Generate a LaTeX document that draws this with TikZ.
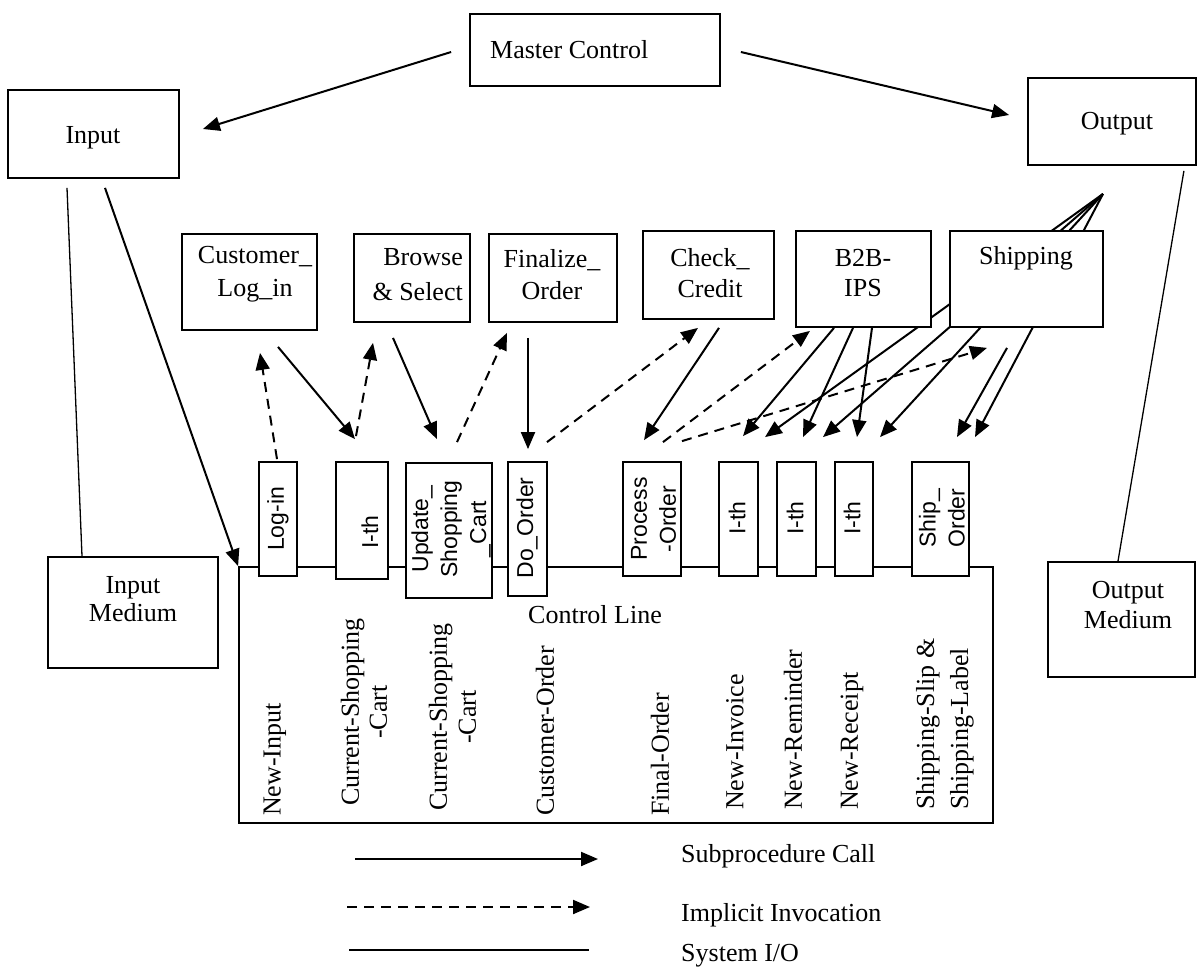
\documentclass[tikz,border=0pt]{standalone}
\usepackage{fontspec}
\setmainfont{Liberation Serif}
\newfontfamily\arialfont{Liberation Sans}
\usetikzlibrary{arrows.meta,calc}
\pgfdeclarelayer{back}
\pgfdeclarelayer{bg}
\pgfsetlayers{back,bg,main}
\begin{document}
\begin{tikzpicture}[x=1pt,y=-1pt,
  box/.style={draw,line width=1.8pt,fill=white,inner sep=0pt},
  tlbl/.style={font=\fontsize{26}{31}\selectfont,inner sep=0pt,align=center},
  slbl/.style={font=\arialfont\fontsize{23}{29}\selectfont,inner sep=0pt,align=center,rotate=90},
  vlbl/.style={font=\fontsize{26}{31}\selectfont,inner sep=0pt,rotate=90},
  arrowhd/.style={-{Triangle[length=17pt,width=14pt]}},
  call/.style={line width=2pt,arrowhd},
  impl/.style={line width=2pt,dash pattern=on 10pt off 7pt,arrowhd},
  sysio/.style={line width=1.3pt}]
\useasboundingbox (0,0) rectangle (1197,969);
\begin{pgfonlayer}{back}
\fill[white] (0,0) rectangle (1197,969);
\end{pgfonlayer}
% boxes
\node[box,minimum width=250pt,minimum height=72pt] (master) at (595,50) {};
\node[box,minimum width=171pt,minimum height=88pt] (input) at (93.5,134) {};
\node[box,minimum width=168pt,minimum height=87pt] (output) at (1112,121.5) {};
\node[box,minimum width=135pt,minimum height=96pt] (cust) at (249.5,282) {};
\node[box,minimum width=116pt,minimum height=88pt] (browse) at (412,278) {};
\node[box,minimum width=128pt,minimum height=88pt] (final) at (553,278) {};
\node[box,minimum width=131pt,minimum height=88pt] (check) at (708.5,275) {};
\node[box,minimum width=135pt,minimum height=96pt] (b2b) at (863.5,279) {};
\node[box,minimum width=153pt,minimum height=96pt] (ship) at (1026.5,279) {};
\node[box,minimum width=170pt,minimum height=111pt] (inmed) at (133,612.5) {};
\node[box,minimum width=147pt,minimum height=115pt] (outmed) at (1121.5,619.5) {};
\node[box,minimum width=754pt,minimum height=256pt] (ctrl) at (616,695) {};
\node[box,minimum width=38pt,minimum height=114pt] (login) at (278,519) {};
\node[box,minimum width=52pt,minimum height=117pt] (ith1) at (362,520.5) {};
\node[box,minimum width=86pt,minimum height=135pt] (upd) at (449,530.5) {};
\node[box,minimum width=39pt,minimum height=134pt] (doord) at (527.5,529) {};
\node[box,minimum width=58pt,minimum height=114pt] (proc) at (652,519) {};
\node[box,minimum width=39pt,minimum height=114pt] (ith2) at (738.5,519) {};
\node[box,minimum width=39pt,minimum height=114pt] (ith3) at (796.5,519) {};
\node[box,minimum width=38pt,minimum height=114pt] (ith4) at (854,519) {};
\node[box,minimum width=57pt,minimum height=114pt] (shipo) at (940.5,519) {};
% texts
\node[tlbl,anchor=west] (mastert) at (490,50) {Master Control};
\node[tlbl] (inputt) at (93,138) {Input};
\node[tlbl] (outputt) at (1117,124) {Output};
\node[tlbl,font=\fontsize{26}{33}\selectfont] (custt) at (255,274) {Customer\_\\Log\_in};
\node[tlbl,align=right,anchor=east,font=\fontsize{26}{35}\selectfont] (browset) at (463,275) {Browse\\\& Select};
\node[tlbl,font=\fontsize{26}{32}\selectfont] (finalt) at (552,275) {Finalize\_\\Order};
\node[tlbl] (checkt) at (710,273) {Check\_\\Credit};
\node[tlbl,font=\fontsize{26}{30}\selectfont] (b2bt) at (863,273) {B2B-\\IPS};
\node[tlbl] (shipt) at (1026,258) {Shipping};
\node[tlbl,font=\fontsize{26}{28}\selectfont] (inmedt) at (133,599) {Input\\Medium};
\node[tlbl,font=\fontsize{26}{30}\selectfont] (outmedt) at (1128,605) {Output\\Medium};
\node[tlbl,anchor=base] (ctrlt) at (595,623) {Control Line};
% small rotated labels
\node[slbl] (logint) at (278,519) {Log-in};
\node[slbl] (ith1t) at (370,532) {I-th};
\node[slbl] (updt) at (451,529) {Update\_\\Shopping\\\_Cart};
\node[slbl] (doordt) at (527,528) {Do\_Order};
\node[slbl] (proct) at (653.5,519) {Process\\-Order};
\node[slbl] (ith2t) at (737,518) {I-th};
\node[slbl] (ith3t) at (795,518) {I-th};
\node[slbl] (ith4t) at (852,518) {I-th};
\node[slbl] (shipot) at (942,518) {Ship\_\\Order};
% data labels
\node[vlbl,anchor=west] (l1) at (275,816) {New-Input};
\node[vlbl,align=center,font=\fontsize{26}{28}\selectfont] (l2) at (364,712) {Current-Shopping\\-Cart};
\node[vlbl,align=center,font=\fontsize{26}{29}\selectfont] (l3) at (452.5,717) {Current-Shopping\\-Cart};
\node[vlbl,anchor=west] (l4) at (545,816) {Customer-Order};
\node[vlbl,anchor=west] (l5) at (660,816) {Final-Order};
\node[vlbl,anchor=west] (l6) at (735,810) {New-Invoice};
\node[vlbl,anchor=west] (l7) at (793,810) {New-Reminder};
\node[vlbl,anchor=west] (l8) at (852,810) {New-Receipt};
\node[vlbl,anchor=west,align=left,font=\fontsize{26}{34}\selectfont] (l9) at (945,810) {Shipping-Slip \&\\Shipping-Label};
% legend
\node[tlbl,anchor=base west] (lg1) at (681,862) {Subprocedure Call};
\node[tlbl,anchor=base west] (lg2) at (681,921) {Implicit Invocation};
\node[tlbl,anchor=base west] (lg3) at (681,961) {System I/O};
\coordinate (lg1a) at (355,859); \coordinate (lg1b) at (598,859);
\coordinate (lg2a) at (347,907); \coordinate (lg2b) at (590,907);
\coordinate (lg3a) at (349,950); \coordinate (lg3b) at (589,950);
\draw[call] (lg1a) -- (lg1b);
\draw[impl] (lg2a) -- (lg2b);
\draw[sysio] (lg3a) -- (lg3b);
% connectors
\begin{pgfonlayer}{bg}
\draw[call] ($(master.west)+(-18,2)$) -- ($(input.east)+(23,-5)$);
\draw[call] ($(master.east)+(20,2)$) -- ($(output.west)+(-18,-6.5)$);
\draw[sysio] ($(input.south)+(-26.5,9)$) -- ($(inmed.north)+(-51,0)$);
\draw[call] ($(input.south)+(11.5,9)$) -- (ctrl.north west);
\draw[sysio] ($(output.south east)+(-13,5)$) -- ($(outmed.north)+(-3.5,0)$);
\draw[impl] ($(login.north)+(-1,-2)$) -- ($(cust.south)+(10.5,22)$);
\draw[call] ($(cust.south)+(28.5,16)$) -- ($(ith1.north)+(-7,-22)$);
\draw[impl] ($(ith1.north)+(-6,-25)$) -- ($(browse.south)+(-39,20)$);
\draw[call] ($(browse.south)+(-19,15)$) -- ($(upd.north)+(-12,-23)$);
\draw[impl] ($(upd.north)+(8,-20)$) -- ($(final.south)+(-46,10)$);
\draw[call] ($(final.south)+(-25,15)$) -- ($(doord.north)+(0.5,-12)$);
\draw[impl] ($(doord.north)+(19.5,-19)$) -- ($(check.south)+(-10.5,8)$);
\draw[call] ($(check.south)+(10.5,8)$) -- ($(proc.north)+(-8,-21)$);
\draw[impl] ($(proc.north)+(11,-19)$) -- ($(b2b.south)+(-53.5,3)$);
\draw[impl] ($(proc.north)+(30,-20)$) -- ($(ship.south)+(-39.5,20)$);
\draw[call] ($(b2b.south)+(-29.5,0)$) -- ($(ith2.north)+(4.5,-25)$);
\draw[call] ($(b2b.south)+(-10.5,0)$) -- ($(ith3.north)+(6.5,-24)$);
\draw[call] ($(b2b.south)+(8.5,0)$) -- ($(ith4.north)+(3,-24)$);
\draw[call] ($(ship.south)+(-19.5,20)$) -- ($(shipo.north)+(16.5,-24)$);
\coordinate (apex) at ($(output.south)+(-9,28)$);
\draw[call] (apex) -- ($(ith2.north)+(26.5,-24)$);
\draw[call] (apex) -- ($(ith3.north)+(26.5,-24)$);
\draw[call] (apex) -- ($(ith4.north)+(26,-24)$);
\draw[call] (apex) -- ($(shipo.north)+(34.5,-24)$);
\end{pgfonlayer}
\end{tikzpicture}
\end{document}
